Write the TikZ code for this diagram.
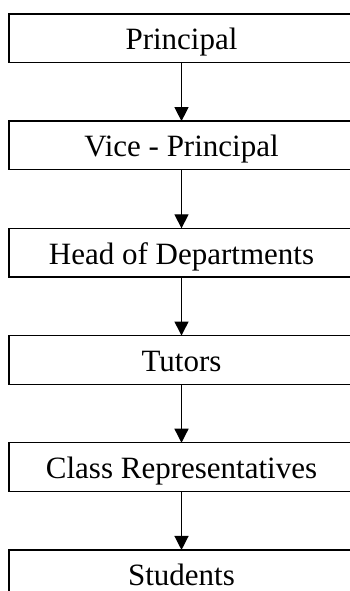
\documentclass[tikz,border=0pt]{standalone}
\usepackage{fontspec}
\setmainfont{Liberation Serif}
\usetikzlibrary{positioning,arrows.meta}

\tikzset{
  post/.style={draw, line width=1.3pt, minimum width=345pt, minimum height=48.7pt,
    inner sep=0pt, outer sep=0pt, text height=23pt, text depth=0pt,
    font=\fontsize{31}{37}\selectfont},
  link/.style={-{Triangle[width=14pt,length=14pt]}, line width=1.3pt}
}

\begin{document}
\begin{tikzpicture}[x=1pt,y=1pt,node distance=58.5pt]

\clip (0,0) rectangle (350,591);

\node[post] (principal) at (181.5,552.7) {Principal};
\node[post, below=of principal] (vice) {Vice - Principal};
\node[post, below=of vice] (heads) {Head of Departments};
\node[post, below=of heads] (tutors) {Tutors};
\node[post, below=of tutors] (classrep) {Class Representatives};
\node[post, below=of classrep] (students) {Students};

\draw[link] (principal) -- (vice);
\draw[link] (vice) -- (heads);
\draw[link] (heads) -- (tutors);
\draw[link] (tutors) -- (classrep);
\draw[link] (classrep) -- (students);
\end{tikzpicture}
\end{document}
